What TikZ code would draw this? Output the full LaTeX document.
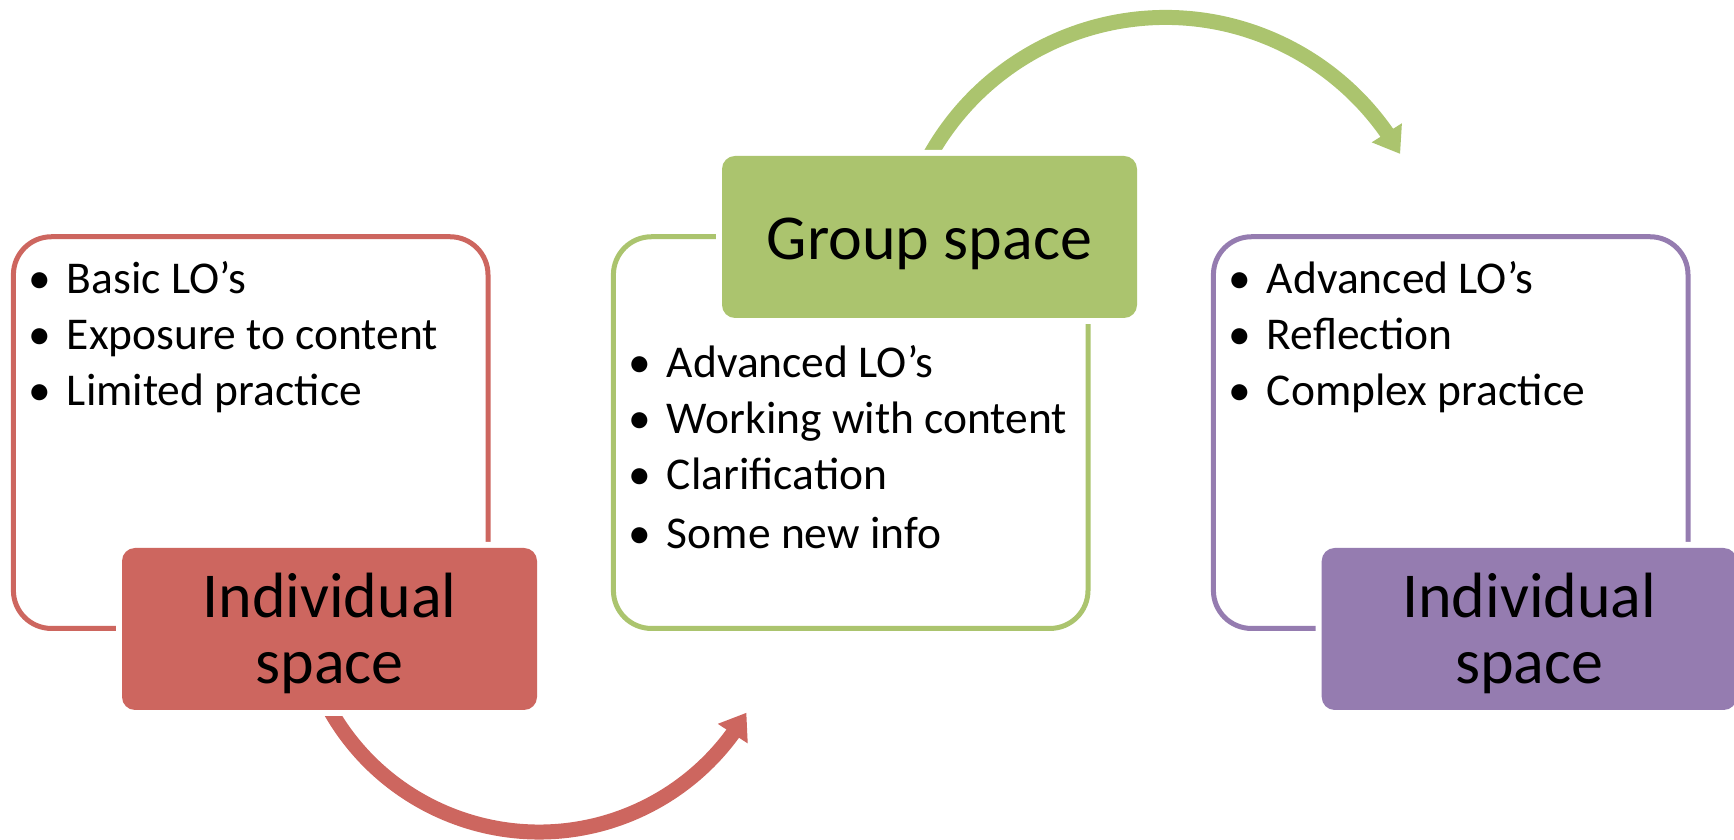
\documentclass[tikz,border=0pt]{standalone}
\usepackage{fontspec}
\setmainfont{Carlito}
\usetikzlibrary{arrows.meta,bending}
\definecolor{cred}{RGB}{205,102,95}
\definecolor{cgreen}{RGB}{171,196,110}
\definecolor{cpurple}{RGB}{149,124,176}
\begin{document}
\begin{tikzpicture}[x=1pt,y=1pt,
  outlinebox/.style={draw=#1, line width=5pt, rounded corners=38pt, fill=white,
    minimum width=474.6pt, minimum height=391.7pt, inner sep=0pt},
  titlebox/.style={fill=#1, rounded corners=13pt, preaction={draw=white, line width=12pt, rounded corners=13pt},
    minimum width=415pt, minimum height=162pt, inner sep=0pt},
  titletext/.style={inner sep=0pt, align=center, font=\fontsize{64}{66}\selectfont},
  bigarrow/.style={draw=#1, line width=15pt,
    -{Triangle[length=25pt,width=34pt]}},
  bullet/.style={anchor=base, inner sep=0pt, font=\fontsize{45.5}{56}\selectfont},
  item/.style={anchor=base west, inner sep=0pt, font=\fontsize{45.5}{56}\selectfont}]
\useasboundingbox (0,0) rectangle (1734,840);

% outline boxes
\node[outlinebox=cred] (rout) at (250.7,407.4) {};
\node[outlinebox=cgreen] (gout) at (850.7,407.4) {};
\node[outlinebox=cpurple] (pout) at (1450.7,407.4) {};

% curved arrows
\coordinate (rc) at (539,248);
\coordinate (gc) at (1165.5,552.5);
\draw[bigarrow=cred] ([shift={(205:240)}]rc) arc[start angle=205, end angle=329.8, radius=240];
\draw[bigarrow=cgreen] ([shift={(155:270)}]gc) arc[start angle=155, end angle=29.65, radius=270];

% title boxes
\node[titlebox=cred] (rbox) at (329.5,211) {};
\node[titlebox=cgreen] (gbox) at (929.5,603) {};
\node[titlebox=cpurple] (pbox) at (1529.2,211) {};
\node[titletext] (rtitle) at ([yshift=-4.5pt]rbox.center) {Individual\\space};
\node[titletext] (gtitle) at ([yshift=-7pt]gbox.center) {Group space};
\node[titletext] (ptitle) at ([yshift=-4.5pt]pbox.center) {Individual\\space};

% red bullets
\node[bullet] (rb1) at (40,546.5) {•};
\node[item] (rt1) at (66.7,546.5) {Basic LO’s};
\node[bullet] (rb2) at (40,490.8) {•};
\node[item] (rt2) at (66.7,490.8) {Exposure to content};
\node[bullet] (rb3) at (40,434.8) {•};
\node[item] (rt3) at (66.7,434.8) {Limited practice};

% green bullets
\node[bullet] (gb1) at (640,462.7) {•};
\node[item] (gt1) at (666.7,462.7) {Advanced LO’s};
\node[bullet] (gb2) at (640,406.7) {•};
\node[item] (gt2) at (666.7,406.7) {Working with content};
\node[bullet] (gb3) at (640,350.7) {•};
\node[item] (gt3) at (666.7,350.7) {Clarification};
\node[bullet] (gb4) at (640,291.7) {•};
\node[item] (gt4) at (666.7,291.7) {Some new info};

% purple bullets
\node[bullet] (pb1) at (1239.5,546.5) {•};
\node[item] (pt1) at (1266.7,546.5) {Advanced LO’s};
\node[bullet] (pb2) at (1239.5,490.8) {•};
\node[item] (pt2) at (1266.7,490.8) {Reflection};
\node[bullet] (pb3) at (1239.5,434.8) {•};
\node[item] (pt3) at (1266.7,434.8) {Complex practice};
\end{tikzpicture}
\end{document}
